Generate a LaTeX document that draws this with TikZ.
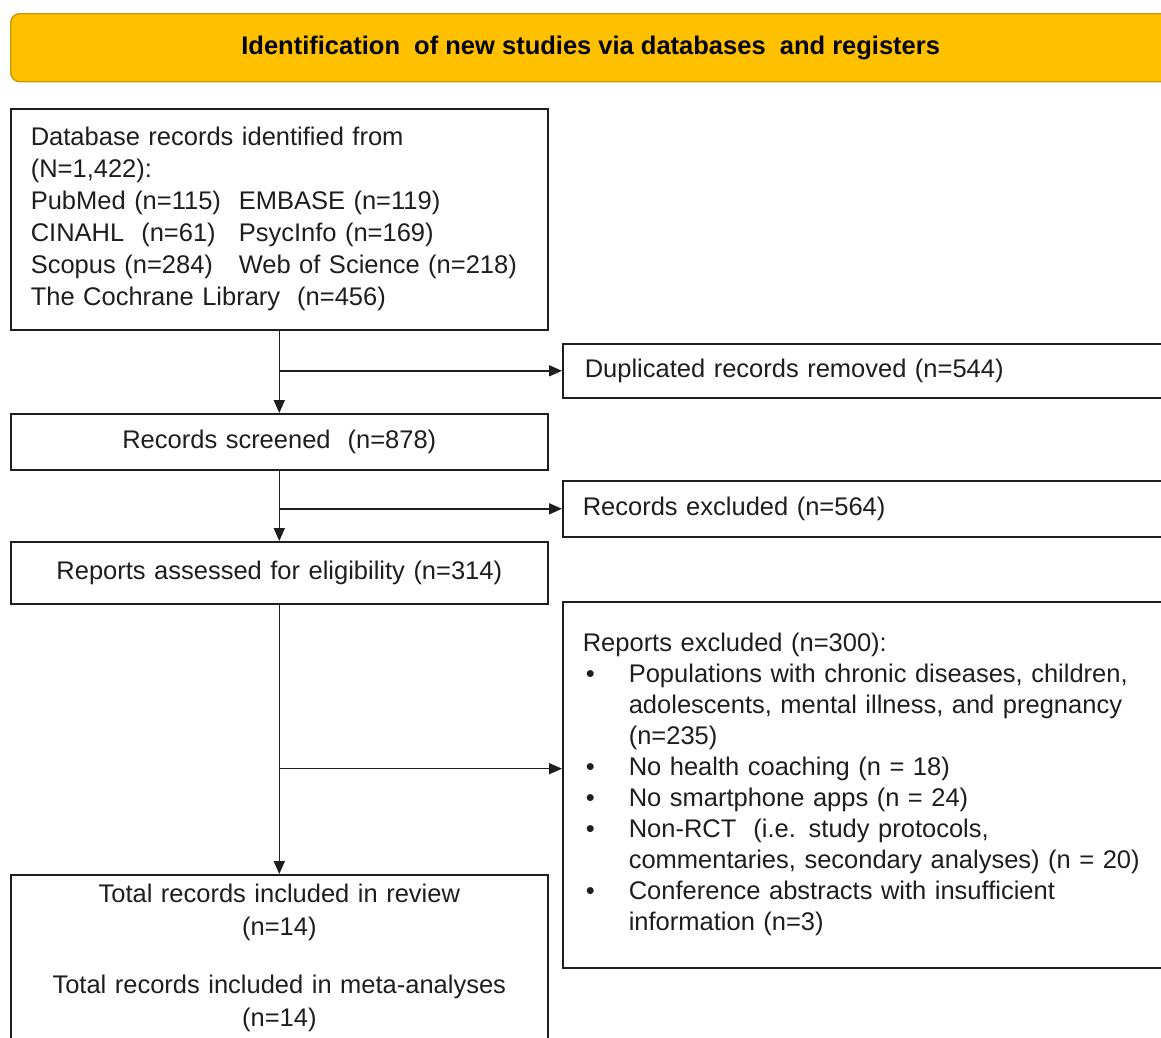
\documentclass[tikz,border=0pt]{standalone}
\usepackage{fontspec}
\setmainfont{Liberation Sans}
\usetikzlibrary{arrows.meta,calc}
\definecolor{gold}{HTML}{FFC000}
\definecolor{goldedge}{HTML}{C99A00}
\definecolor{ink}{HTML}{1E1E1E}
\newcommand{\bulletitem}{\hangindent=46pt\hangafter=1\noindent\makebox[46pt][l]{\hspace{3pt}\textbullet}}
\begin{document}
\begin{tikzpicture}[x=1pt,y=-1pt,
  box/.style={draw=ink, line width=1.6pt, inner ysep=0pt, inner xsep=20pt, text=ink,
    font=\fontsize{25.5}{32}\selectfont, anchor=north west},
  banner/.style={draw=goldedge, fill=gold, line width=1.4pt, rounded corners=9pt,
    anchor=north west, font=\fontsize{25.5}{32}\selectfont\bfseries, text=black},
  arr/.style={draw=ink, line width=1.6pt, -{Triangle[length=13pt,width=11pt]}}]
\useasboundingbox (0,0) rectangle (1161,1037);
\clip (0,0) rectangle (1161,1037);
\fill[white] (0,0) rectangle (1161,1037);

\node[banner, minimum width=1160pt, minimum height=68pt] (hdr) at (10,13)
  {Identification\ \ of new studies via databases\ \ and registers};

\node[box, text width=497pt, minimum height=221pt, align=left] (b1) at (10,108)
  {Database records identified from\\
   (N=1,422):\\
   \makebox[208pt][l]{PubMed (n=115)}EMBASE (n=119)\\
   \makebox[208pt][l]{CINAHL\ \ (n=61)}PsycInfo (n=169)\\
   \makebox[208pt][l]{Scopus (n=284)}Web of Science (n=218)\\
   The Cochrane Library\ \ (n=456)};

\node[box, inner xsep=22pt, text width=600pt, minimum height=54pt, align=left] (dup) at (562,343)
  {Duplicated records removed (n=544)};

\node[box, text width=497pt, minimum height=56pt, align=center] (scr) at (10,413)
  {Records screened\ \ (n=878)};

\node[box, inner xsep=20pt, text width=600pt, minimum height=56pt, align=left] (exc) at (562,480)
  {Records excluded (n=564)};

\node[box, text width=497pt, minimum height=62pt, align=center] (rep) at (10,541)
  {Reports assessed for eligibility (n=314)};

\node[box, inner xsep=20pt, text width=600pt, minimum height=366pt,
      font=\fontsize{25.5}{31}\selectfont] (rex) at (562,601)
  {\noindent Reports excluded (n=300):\par
   \bulletitem Populations with chronic diseases, children,\newline
   adolescents, mental illness, and pregnancy\newline
   (n=235)\par
   \bulletitem No health coaching (n = 18)\par
   \bulletitem No smartphone apps (n = 24)\par
   \bulletitem Non-RCT\ \ (i.e. study protocols,\newline
   commentaries, secondary analyses) (n = 20)\par
   \bulletitem Conference abstracts with insufficient\newline
   information (n=3)\par};

\node[box, text width=497pt, minimum height=167pt, align=center,
      font=\fontsize{25.5}{33}\selectfont] (tot) at (10,874)
  {Total records included in review\\
   (n=14)\\[25pt]
   Total records included in meta-analyses\\
   (n=14)};

\draw[arr] (b1.south) -- (scr.north);
\draw[arr] (b1.south |- dup.west) -- (dup.west);
\draw[arr] (scr.south) -- (rep.north);
\draw[arr] (scr.south |- exc.west) -- (exc.west);
\draw[arr] (rep.south) -- (tot.north);
\coordinate (br) at ($(rep.south)!0.609!(tot.north)$);
\draw[arr] (br) -- (br -| rex.west);
\end{tikzpicture}
\end{document}
